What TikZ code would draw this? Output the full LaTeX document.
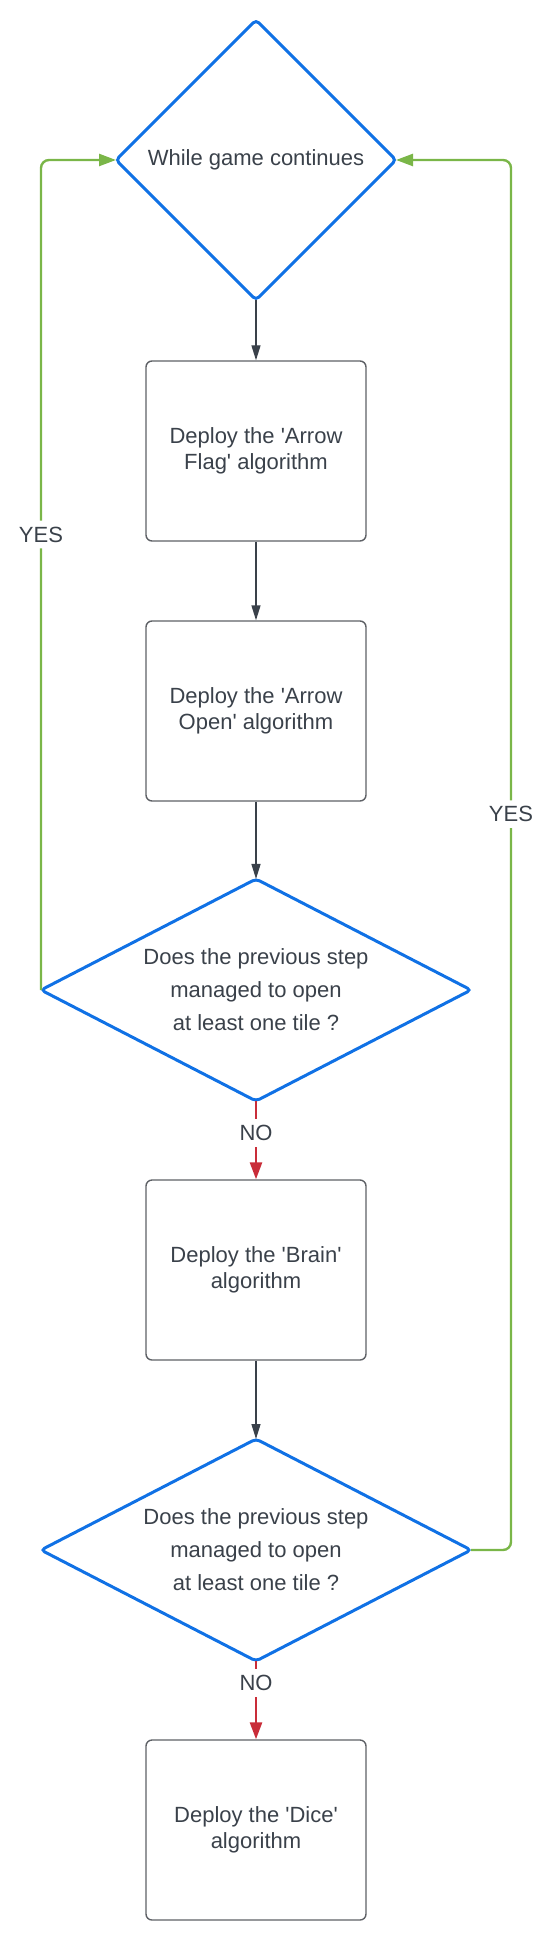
\documentclass[tikz,border=0pt]{standalone}
\usepackage{fontspec}
\setmainfont{Liberation Sans}
\usepackage{tikz}
\usetikzlibrary{shapes.geometric,arrows.meta}
\usepackage{xcolor}

\definecolor{azul}{HTML}{1071E5}
\definecolor{verde}{HTML}{7AB648}
\definecolor{rojo}{HTML}{C92D39}
\definecolor{texto}{HTML}{3A414A}
\definecolor{borde}{HTML}{5E6166}

\begin{document}
\begin{tikzpicture}[x=0.5pt, y=-0.5pt,
    decision/.style={diamond, draw=azul, line width=1.5pt, rounded corners=2pt, inner sep=0pt, outer sep=0pt,
        text=texto, align=center, font=\fontsize{11}{16.5}\selectfont},
    proceso/.style={rectangle, draw=borde, line width=0.7pt, rounded corners=3pt,
        minimum width=110pt, minimum height=90pt, text=texto, align=center,
        font=\fontsize{11}{13}\selectfont},
    flecha/.style={draw=texto, line width=0.7pt, -{Triangle[length=7.5pt, width=4.5pt]}},
    flechano/.style={draw=rojo, line width=1.3pt, -{Triangle[length=8.5pt, width=6pt]}},
    flechasi/.style={draw=verde, line width=1.2pt, rounded corners=4pt, -{Triangle[length=8.5pt, width=6pt]}},
    etiqueta/.style={fill=white, text=texto, inner xsep=2pt, inner ysep=3pt, font=\fontsize{11}{13}\selectfont}]

    % Marco
    \useasboundingbox (0,0) rectangle (551,1941);

    % Parámetros
    \def\cx{256} % eje central

    % Decisión inicial
    \node[decision, aspect=1, minimum width=140pt, minimum height=140pt] (inicio) at (\cx,160) {While game continues};

    % Algoritmos
    \node[proceso] (flag) at (\cx,451) {Deploy the \textquotesingle Arrow\\Flag\textquotesingle{} algorithm};
    \node[proceso] (open) at (\cx,711) {Deploy the \textquotesingle Arrow\\Open\textquotesingle{} algorithm};

    % Primera pregunta
    \node[decision, aspect=1.95, minimum width=215pt, minimum height=111pt] (pregunta1) at (\cx,990)
        {Does the previous step\\managed to open\\at least one tile ?};

    \node[proceso] (brain) at (\cx,1270) {Deploy the \textquotesingle Brain\textquotesingle\\algorithm};

    % Segunda pregunta
    \node[decision, aspect=1.95, minimum width=215pt, minimum height=111pt] (pregunta2) at (\cx,1550)
        {Does the previous step\\managed to open\\at least one tile ?};

    \node[proceso] (dice) at (\cx,1830) {Deploy the \textquotesingle Dice\textquotesingle\\algorithm};

    % Flechas principales
    \draw[flecha] (inicio) -- (flag);
    \draw[flecha] (flag) -- (open);
    \draw[flecha] (open) -- (pregunta1);
    \draw[flechano] (pregunta1) -- node[etiqueta, pos=0.41] {NO} (brain);
    \draw[flecha] (brain) -- (pregunta2);
    \draw[flechano] (pregunta2) -- node[etiqueta, pos=0.28] {NO} (dice);

    % Ramas de vuelta (YES)
    \draw[flechasi] (pregunta1.west) |- node[etiqueta, pos=0.2744] {YES} (inicio.west);
    \draw[flechasi] (pregunta2.east) -- ++(40,0) |- node[etiqueta, pos=0.2647] {YES} (inicio.east);

\end{tikzpicture}
\end{document}
